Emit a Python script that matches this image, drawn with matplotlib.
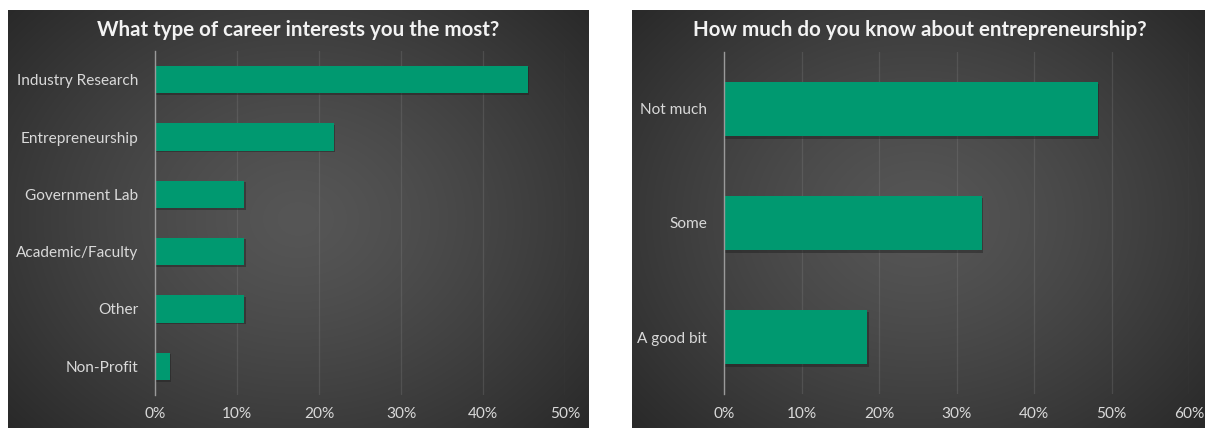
import numpy as np
import matplotlib.pyplot as plt
from matplotlib.ticker import PercentFormatter

# survey answers, share of respondents in percent
career_labels = ['Industry Research', 'Entrepreneurship', 'Government Lab',
                 'Academic/Faculty', 'Other', 'Non-Profit']
career_pct = [45.5, 21.8, 10.9, 10.9, 10.9, 1.8]

know_labels = ['Not much', 'Some', 'A good bit']
know_pct = [48.3, 33.3, 18.5]

BAR = '#009970'
TEXT = '#d9d9d9'
plt.rcParams['font.family'] = ['Lato', 'DejaVu Sans']

W, H = 1205, 428
fig = plt.figure(figsize=(W / 100, H / 100), dpi=100)
fig.patch.set_facecolor('white')


def fx(px):
    return px / W


def fy(py):
    return 1 - py / H


def backdrop(x0, x1, y0, y1):
    # dark radial gradient behind each chart
    ax = fig.add_axes([fx(x0), fy(y1), fx(x1 - x0), fy(y0) - fy(y1)])
    xx, yy = np.meshgrid(np.linspace(-1, 1, 300), np.linspace(-1, 1, 200))
    r = np.clip(np.sqrt((xx * 0.9) ** 2 + (yy * 0.8) ** 2) / 1.25, 0, 1) ** 1.3
    inner = np.array([0x56, 0x56, 0x56]) / 255
    outer = np.array([0x27, 0x27, 0x27]) / 255
    img = inner[None, None, :] * (1 - r[..., None]) + outer[None, None, :] * r[..., None]
    ax.imshow(img, aspect='auto', extent=[0, 1, 0, 1], interpolation='bilinear')
    ax.set_axis_off()
    return ax


def bar_chart(rect, labels, values, xmax, title, title_x, title_y):
    ax = fig.add_axes(rect)
    ax.patch.set_alpha(0)
    y = np.arange(len(labels))
    # faint shadow under each bar
    ax.barh(y + 0.025, values, height=0.48, left=0.15, color='#1e1e1e', alpha=0.45, zorder=2)
    ax.barh(y, values, height=0.48, color=BAR, zorder=3)
    ax.set_ylim(len(labels) - 0.5, -0.5)
    ax.set_xlim(0, xmax)
    ax.set_yticks(y)
    ax.set_yticklabels(labels)
    ax.set_xticks(np.arange(0, xmax + 1, 10))
    ax.xaxis.set_major_formatter(PercentFormatter(decimals=0))
    ax.tick_params(axis='both', length=0, labelsize=11.1, colors=TEXT)
    ax.tick_params(axis='x', pad=9)
    ax.tick_params(axis='y', pad=12)
    ax.grid(axis='x', color='#8a8a8a', alpha=0.25, linewidth=0.9, zorder=0)
    ax.set_axisbelow(True)
    for s in ['top', 'right', 'bottom']:
        ax.spines[s].set_visible(False)
    ax.spines['left'].set_color('#9a9a9a')
    ax.spines['left'].set_linewidth(1)
    ax.spines['left'].set_zorder(4)
    fig.text(title_x, title_y, title, ha='center', va='center', color='#f2f2f2',
             fontsize=14.8, fontweight='bold')
    return ax


backdrop(8, 589, 10, 428)
backdrop(632, 1205, 10, 428)

bar_chart([fx(155), fy(395), fx(565 - 155), fy(51) - fy(395)],
          career_labels, career_pct, 50,
          'What type of career interests you the most?', fx(298), fy(30))
bar_chart([fx(724), fy(394), fx(1189 - 724), fy(52) - fy(394)],
          know_labels, know_pct, 60,
          'How much do you know about entrepreneurship?', fx(920), fy(30))

fig.savefig('out.png', dpi=100, facecolor='white')
